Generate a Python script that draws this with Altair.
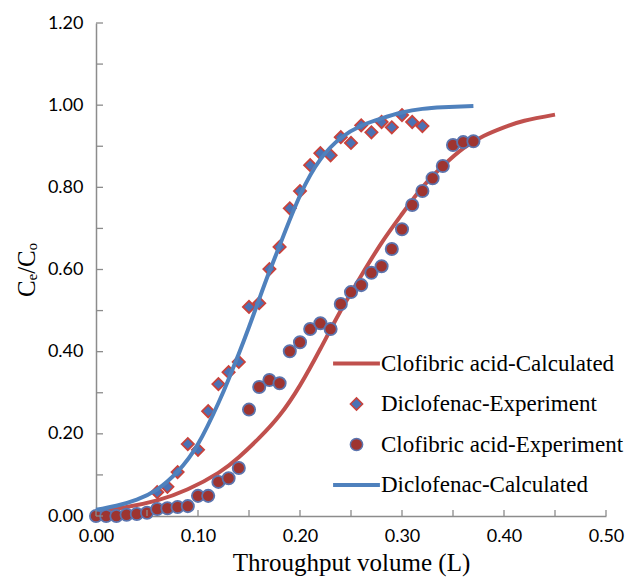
import altair as alt
import pandas as pd

# ---------------- data ----------------
SERIES = ["Clofibric acid-Calculated", "Diclofenac-Experiment",
          "Clofibric acid-Experiment", "Diclofenac-Calculated"]

dic_exp_x = [0.06, 0.07, 0.08, 0.09, 0.10, 0.11, 0.12, 0.13, 0.14, 0.15, 0.16, 0.17, 0.18, 0.19,
             0.20, 0.21, 0.22, 0.23, 0.24, 0.25, 0.26, 0.27, 0.28, 0.29, 0.30, 0.31, 0.32]
dic_exp_y = [0.058, 0.071, 0.107, 0.175, 0.161, 0.255, 0.321, 0.350, 0.375, 0.509, 0.518, 0.601, 0.655, 0.749,
             0.791, 0.854, 0.883, 0.878, 0.922, 0.908, 0.951, 0.934, 0.959, 0.946, 0.976, 0.959, 0.949]

clo_exp_x = [0.00, 0.01, 0.02, 0.03, 0.04, 0.05, 0.06, 0.07, 0.08, 0.09, 0.10, 0.11, 0.12, 0.13,
             0.14, 0.15, 0.16, 0.17, 0.18, 0.19, 0.20, 0.21, 0.22, 0.23, 0.24, 0.25, 0.26, 0.27,
             0.28, 0.29, 0.30, 0.31, 0.32, 0.33, 0.34, 0.35, 0.36, 0.37]
clo_exp_y = [0.000, 0.000, 0.000, 0.003, 0.005, 0.008, 0.017, 0.019, 0.022, 0.024, 0.049, 0.049, 0.083, 0.092,
             0.117, 0.259, 0.314, 0.331, 0.323, 0.401, 0.423, 0.455, 0.469, 0.455, 0.516, 0.545, 0.562, 0.592,
             0.608, 0.650, 0.698, 0.757, 0.791, 0.822, 0.852, 0.903, 0.910, 0.912]

dic_calc_x = [0.00, 0.02, 0.04, 0.06, 0.08, 0.10, 0.12, 0.13, 0.14, 0.15, 0.16, 0.17, 0.18, 0.20,
              0.22, 0.24, 0.26, 0.28, 0.30, 0.32, 0.34, 0.37]
dic_calc_y = [0.015, 0.025, 0.040, 0.065, 0.108, 0.175, 0.275, 0.333, 0.395, 0.460, 0.528, 0.595, 0.658, 0.780,
              0.868, 0.920, 0.950, 0.968, 0.982, 0.991, 0.995, 0.998]

clo_calc_x = [0.00, 0.03, 0.06, 0.09, 0.12, 0.14, 0.16, 0.18, 0.20, 0.22, 0.24, 0.26, 0.28, 0.30,
              0.32, 0.34, 0.36, 0.38, 0.40, 0.42, 0.45]
clo_calc_y = [0.012, 0.022, 0.038, 0.065, 0.105, 0.143, 0.190, 0.245, 0.318, 0.407, 0.500, 0.585, 0.665, 0.735,
              0.800, 0.852, 0.895, 0.925, 0.946, 0.962, 0.977]

x_tick_marks = [0.00, 0.05, 0.10, 0.15, 0.20, 0.25, 0.30, 0.35, 0.40, 0.45, 0.50]
y_tick_marks = [0.0, 0.1, 0.2, 0.3, 0.4, 0.5, 0.6, 0.7, 0.8, 0.9, 1.0, 1.1, 1.2]
x_labels = [0.0, 0.1, 0.2, 0.3, 0.4, 0.5]
y_labels = [0.0, 0.2, 0.4, 0.6, 0.8, 1.0, 1.2]

# ---------------- styling ----------------
RED = "#C0504D"
BLUE = "#4F81BD"
DIA_FILL = "#4A72B5"
DIA_EDGE = "#C8423C"
CIR_FILL = "#9E3430"
CIR_EDGE = "#5B74AE"
AXIS_GREY = "#8C8C8C"
LINE_PATH = "M-3.7,-0.22H3.7V0.22H-3.7Z"

W, H = 510, 493

def frame(xs, ys, name):
    return pd.DataFrame({"x": xs, "y": ys, "series": name})

red_df = frame(clo_calc_x, clo_calc_y, SERIES[0])
dia_df = frame(dic_exp_x, dic_exp_y, SERIES[1])
cir_df = frame(clo_exp_x, clo_exp_y, SERIES[2])
blue_df = frame(dic_calc_x, dic_calc_y, SERIES[3])

stroke_scale = alt.Scale(domain=SERIES, range=[RED, DIA_EDGE, CIR_EDGE, BLUE])
fill_scale = alt.Scale(domain=SERIES, range=[RED, DIA_FILL, CIR_FILL, BLUE])
shape_scale = alt.Scale(domain=SERIES, range=[LINE_PATH, "diamond", "circle", LINE_PATH])

x_enc = alt.X("x:Q", scale=alt.Scale(domain=[0, 0.5], nice=False),
              axis=alt.Axis(values=x_labels, format=".2f", title="Throughput volume (L)",
                            ticks=False, grid=False, labelPadding=11, labelFlush=False,
                            titleY=46, titleBaseline="middle"))
y_enc = alt.Y("y:Q", scale=alt.Scale(domain=[0, 1.2], nice=False),
              axis=alt.Axis(values=y_labels, format=".2f", title="Cₑ/Cₒ",
                            ticks=False, grid=False, labelPadding=13, labelFlush=False,
                            titleX=-70, titleY=H / 2, titleAngle=270,
                            titleAlign="center", titleBaseline="middle"))

legend = alt.Legend(title=None, orient="none", legendX=249, legendY=329, padding=0,
                    labelFont="Liberation Serif", labelFontSize=23, labelColor="black",
                    labelOffset=13, rowPadding=16.5, labelLimit=400, symbolSize=150,
                    symbolStrokeWidth=1.5, symbolOpacity=1)

red_line = alt.Chart(red_df).mark_line(strokeWidth=4, interpolate="natural").encode(
    x=x_enc, y=y_enc, stroke=alt.Stroke("series:N", scale=stroke_scale, legend=legend))

def points(df):
    return alt.Chart(df).mark_point(filled=True, size=150, strokeWidth=1.8, opacity=1).encode(
        x=x_enc, y=y_enc,
        shape=alt.Shape("series:N", scale=shape_scale, legend=legend),
        fill=alt.Fill("series:N", scale=fill_scale, legend=legend),
        stroke=alt.Stroke("series:N", scale=stroke_scale, legend=legend))

blue_line = alt.Chart(blue_df).mark_line(strokeWidth=4, interpolate="natural").encode(
    x=x_enc, y=y_enc, stroke=alt.Stroke("series:N", scale=stroke_scale, legend=legend))

x_ticks = alt.Chart(pd.DataFrame({"x": x_tick_marks})).mark_rule(
    color=AXIS_GREY, strokeWidth=1.3).encode(
    x=alt.X("x:Q"), y=alt.value(H), y2=alt.value(H - 6))
y_ticks = alt.Chart(pd.DataFrame({"y": y_tick_marks})).mark_rule(
    color=AXIS_GREY, strokeWidth=1.3).encode(
    y=alt.Y("y:Q"), x=alt.value(0), x2=alt.value(7))

chart = alt.layer(red_line, points(dia_df), points(cir_df), blue_line, x_ticks, y_ticks).properties(
    width=W, height=H,
    autosize=alt.AutoSizeParams(type="none"),
    padding={"left": 96, "top": 23, "right": 26, "bottom": 61},
).configure_view(stroke=None).configure_axis(
    domainColor=AXIS_GREY, domainWidth=1.5,
    labelFont="Lato", labelFontSize=18, labelColor="black",
    titleFont="Liberation Serif", titleFontSize=25, titleFontWeight="normal", titleColor="black",
)

chart.save("out.html", embed_options={"renderer": "svg", "actions": False})
